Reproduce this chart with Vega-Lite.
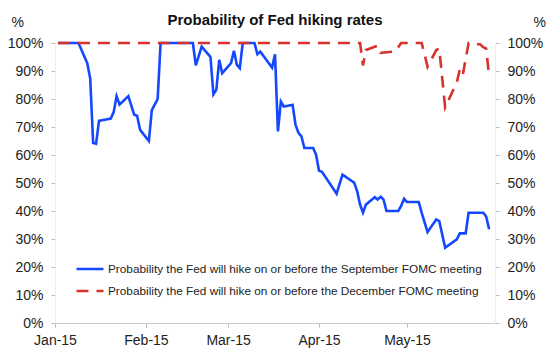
{
  "$schema": "https://vega.github.io/schema/vega-lite/v6.json",
  "autosize": {"type": "none"},
  "width": 440,
  "height": 280,
  "padding": {"left": 55, "top": 43, "right": 55, "bottom": 30},
  "background": "white",
  "config": {
    "view": {"stroke": null},
    "font": "Liberation Sans",
    "axis": {"grid": false, "labelFont": "Liberation Sans", "labelColor": "#222", "titleFont": "Liberation Sans"}
  },
  "title": {
    "text": "Probability of Fed hiking rates",
    "font": "Liberation Sans",
    "fontSize": 15,
    "fontWeight": "bold",
    "color": "#111",
    "anchor": "middle",
    "offset": 0,
    "dy": 13
  },
  "data": {
    "values": [
      {"date": "2015-01-02", "series": "Probability the Fed will hike on or before the September FOMC meeting", "value": 100},
      {"date": "2015-01-09", "series": "Probability the Fed will hike on or before the September FOMC meeting", "value": 100},
      {"date": "2015-01-12", "series": "Probability the Fed will hike on or before the September FOMC meeting", "value": 92.8},
      {"date": "2015-01-13", "series": "Probability the Fed will hike on or before the September FOMC meeting", "value": 87.4},
      {"date": "2015-01-14", "series": "Probability the Fed will hike on or before the September FOMC meeting", "value": 64.3},
      {"date": "2015-01-15", "series": "Probability the Fed will hike on or before the September FOMC meeting", "value": 64},
      {"date": "2015-01-16", "series": "Probability the Fed will hike on or before the September FOMC meeting", "value": 72.2},
      {"date": "2015-01-20", "series": "Probability the Fed will hike on or before the September FOMC meeting", "value": 73},
      {"date": "2015-01-21", "series": "Probability the Fed will hike on or before the September FOMC meeting", "value": 75.3},
      {"date": "2015-01-22", "series": "Probability the Fed will hike on or before the September FOMC meeting", "value": 81},
      {"date": "2015-01-23", "series": "Probability the Fed will hike on or before the September FOMC meeting", "value": 78},
      {"date": "2015-01-26", "series": "Probability the Fed will hike on or before the September FOMC meeting", "value": 81},
      {"date": "2015-01-28", "series": "Probability the Fed will hike on or before the September FOMC meeting", "value": 74.4},
      {"date": "2015-01-29", "series": "Probability the Fed will hike on or before the September FOMC meeting", "value": 74},
      {"date": "2015-01-30", "series": "Probability the Fed will hike on or before the September FOMC meeting", "value": 69},
      {"date": "2015-02-02", "series": "Probability the Fed will hike on or before the September FOMC meeting", "value": 65},
      {"date": "2015-02-03", "series": "Probability the Fed will hike on or before the September FOMC meeting", "value": 76},
      {"date": "2015-02-05", "series": "Probability the Fed will hike on or before the September FOMC meeting", "value": 80},
      {"date": "2015-02-06", "series": "Probability the Fed will hike on or before the September FOMC meeting", "value": 100},
      {"date": "2015-02-17", "series": "Probability the Fed will hike on or before the September FOMC meeting", "value": 100},
      {"date": "2015-02-18", "series": "Probability the Fed will hike on or before the September FOMC meeting", "value": 92},
      {"date": "2015-02-20", "series": "Probability the Fed will hike on or before the September FOMC meeting", "value": 98.7},
      {"date": "2015-02-23", "series": "Probability the Fed will hike on or before the September FOMC meeting", "value": 95},
      {"date": "2015-02-24", "series": "Probability the Fed will hike on or before the September FOMC meeting", "value": 81.7},
      {"date": "2015-02-25", "series": "Probability the Fed will hike on or before the September FOMC meeting", "value": 83.3},
      {"date": "2015-02-26", "series": "Probability the Fed will hike on or before the September FOMC meeting", "value": 94},
      {"date": "2015-02-27", "series": "Probability the Fed will hike on or before the September FOMC meeting", "value": 89.2},
      {"date": "2015-03-02", "series": "Probability the Fed will hike on or before the September FOMC meeting", "value": 92.8},
      {"date": "2015-03-03", "series": "Probability the Fed will hike on or before the September FOMC meeting", "value": 97.2},
      {"date": "2015-03-04", "series": "Probability the Fed will hike on or before the September FOMC meeting", "value": 92.2},
      {"date": "2015-03-05", "series": "Probability the Fed will hike on or before the September FOMC meeting", "value": 91},
      {"date": "2015-03-06", "series": "Probability the Fed will hike on or before the September FOMC meeting", "value": 100},
      {"date": "2015-03-10", "series": "Probability the Fed will hike on or before the September FOMC meeting", "value": 100},
      {"date": "2015-03-11", "series": "Probability the Fed will hike on or before the September FOMC meeting", "value": 96},
      {"date": "2015-03-12", "series": "Probability the Fed will hike on or before the September FOMC meeting", "value": 96.9},
      {"date": "2015-03-16", "series": "Probability the Fed will hike on or before the September FOMC meeting", "value": 91.2},
      {"date": "2015-03-17", "series": "Probability the Fed will hike on or before the September FOMC meeting", "value": 96},
      {"date": "2015-03-18", "series": "Probability the Fed will hike on or before the September FOMC meeting", "value": 68.4},
      {"date": "2015-03-19", "series": "Probability the Fed will hike on or before the September FOMC meeting", "value": 79.1},
      {"date": "2015-03-20", "series": "Probability the Fed will hike on or before the September FOMC meeting", "value": 77.3},
      {"date": "2015-03-23", "series": "Probability the Fed will hike on or before the September FOMC meeting", "value": 77.9},
      {"date": "2015-03-24", "series": "Probability the Fed will hike on or before the September FOMC meeting", "value": 70.8},
      {"date": "2015-03-25", "series": "Probability the Fed will hike on or before the September FOMC meeting", "value": 67.9},
      {"date": "2015-03-26", "series": "Probability the Fed will hike on or before the September FOMC meeting", "value": 66.7},
      {"date": "2015-03-27", "series": "Probability the Fed will hike on or before the September FOMC meeting", "value": 62.5},
      {"date": "2015-03-30", "series": "Probability the Fed will hike on or before the September FOMC meeting", "value": 62.5},
      {"date": "2015-03-31", "series": "Probability the Fed will hike on or before the September FOMC meeting", "value": 60.1},
      {"date": "2015-04-01", "series": "Probability the Fed will hike on or before the September FOMC meeting", "value": 54.4},
      {"date": "2015-04-02", "series": "Probability the Fed will hike on or before the September FOMC meeting", "value": 54},
      {"date": "2015-04-07", "series": "Probability the Fed will hike on or before the September FOMC meeting", "value": 46.2},
      {"date": "2015-04-09", "series": "Probability the Fed will hike on or before the September FOMC meeting", "value": 53},
      {"date": "2015-04-13", "series": "Probability the Fed will hike on or before the September FOMC meeting", "value": 50.1},
      {"date": "2015-04-14", "series": "Probability the Fed will hike on or before the September FOMC meeting", "value": 47.1},
      {"date": "2015-04-15", "series": "Probability the Fed will hike on or before the September FOMC meeting", "value": 42.3},
      {"date": "2015-04-16", "series": "Probability the Fed will hike on or before the September FOMC meeting", "value": 39.4},
      {"date": "2015-04-17", "series": "Probability the Fed will hike on or before the September FOMC meeting", "value": 42.3},
      {"date": "2015-04-20", "series": "Probability the Fed will hike on or before the September FOMC meeting", "value": 44.9},
      {"date": "2015-04-21", "series": "Probability the Fed will hike on or before the September FOMC meeting", "value": 44.1},
      {"date": "2015-04-22", "series": "Probability the Fed will hike on or before the September FOMC meeting", "value": 45.1},
      {"date": "2015-04-23", "series": "Probability the Fed will hike on or before the September FOMC meeting", "value": 44.1},
      {"date": "2015-04-24", "series": "Probability the Fed will hike on or before the September FOMC meeting", "value": 40},
      {"date": "2015-04-28", "series": "Probability the Fed will hike on or before the September FOMC meeting", "value": 40},
      {"date": "2015-04-29", "series": "Probability the Fed will hike on or before the September FOMC meeting", "value": 41.8},
      {"date": "2015-04-30", "series": "Probability the Fed will hike on or before the September FOMC meeting", "value": 44.4},
      {"date": "2015-05-01", "series": "Probability the Fed will hike on or before the September FOMC meeting", "value": 43.2},
      {"date": "2015-05-05", "series": "Probability the Fed will hike on or before the September FOMC meeting", "value": 43.2},
      {"date": "2015-05-06", "series": "Probability the Fed will hike on or before the September FOMC meeting", "value": 39.4},
      {"date": "2015-05-08", "series": "Probability the Fed will hike on or before the September FOMC meeting", "value": 32.5},
      {"date": "2015-05-11", "series": "Probability the Fed will hike on or before the September FOMC meeting", "value": 37},
      {"date": "2015-05-12", "series": "Probability the Fed will hike on or before the September FOMC meeting", "value": 36.4},
      {"date": "2015-05-14", "series": "Probability the Fed will hike on or before the September FOMC meeting", "value": 26.9},
      {"date": "2015-05-18", "series": "Probability the Fed will hike on or before the September FOMC meeting", "value": 29.9},
      {"date": "2015-05-19", "series": "Probability the Fed will hike on or before the September FOMC meeting", "value": 32},
      {"date": "2015-05-21", "series": "Probability the Fed will hike on or before the September FOMC meeting", "value": 32},
      {"date": "2015-05-22", "series": "Probability the Fed will hike on or before the September FOMC meeting", "value": 39.4},
      {"date": "2015-05-27", "series": "Probability the Fed will hike on or before the September FOMC meeting", "value": 39.4},
      {"date": "2015-05-28", "series": "Probability the Fed will hike on or before the September FOMC meeting", "value": 38},
      {"date": "2015-05-29", "series": "Probability the Fed will hike on or before the September FOMC meeting", "value": 33.5},
      {"date": "2015-01-02", "series": "Probability the Fed will hike on or before the December FOMC meeting", "value": 100},
      {"date": "2015-04-15", "series": "Probability the Fed will hike on or before the December FOMC meeting", "value": 100},
      {"date": "2015-04-16", "series": "Probability the Fed will hike on or before the December FOMC meeting", "value": 92},
      {"date": "2015-04-17", "series": "Probability the Fed will hike on or before the December FOMC meeting", "value": 97.5},
      {"date": "2015-04-21", "series": "Probability the Fed will hike on or before the December FOMC meeting", "value": 99},
      {"date": "2015-04-22", "series": "Probability the Fed will hike on or before the December FOMC meeting", "value": 96.5},
      {"date": "2015-04-27", "series": "Probability the Fed will hike on or before the December FOMC meeting", "value": 97},
      {"date": "2015-04-29", "series": "Probability the Fed will hike on or before the December FOMC meeting", "value": 100},
      {"date": "2015-05-06", "series": "Probability the Fed will hike on or before the December FOMC meeting", "value": 100},
      {"date": "2015-05-07", "series": "Probability the Fed will hike on or before the December FOMC meeting", "value": 96},
      {"date": "2015-05-08", "series": "Probability the Fed will hike on or before the December FOMC meeting", "value": 91.5},
      {"date": "2015-05-11", "series": "Probability the Fed will hike on or before the December FOMC meeting", "value": 97.5},
      {"date": "2015-05-12", "series": "Probability the Fed will hike on or before the December FOMC meeting", "value": 98},
      {"date": "2015-05-14", "series": "Probability the Fed will hike on or before the December FOMC meeting", "value": 77},
      {"date": "2015-05-18", "series": "Probability the Fed will hike on or before the December FOMC meeting", "value": 86},
      {"date": "2015-05-19", "series": "Probability the Fed will hike on or before the December FOMC meeting", "value": 90.5},
      {"date": "2015-05-20", "series": "Probability the Fed will hike on or before the December FOMC meeting", "value": 88.5},
      {"date": "2015-05-22", "series": "Probability the Fed will hike on or before the December FOMC meeting", "value": 100},
      {"date": "2015-05-26", "series": "Probability the Fed will hike on or before the December FOMC meeting", "value": 99.5},
      {"date": "2015-05-27", "series": "Probability the Fed will hike on or before the December FOMC meeting", "value": 98.5},
      {"date": "2015-05-28", "series": "Probability the Fed will hike on or before the December FOMC meeting", "value": 98},
      {"date": "2015-05-29", "series": "Probability the Fed will hike on or before the December FOMC meeting", "value": 88}
    ]
  },
  "resolve": {"axis": {"y": "independent"}},
  "layer": [
    {
      "mark": {"type": "line", "strokeWidth": 2.6},
      "encoding": {
        "x": {
          "field": "date", "type": "temporal",
          "scale": {"type": "utc", "domain": [{"year": 2015, "month": 1, "date": 1, "utc": true}, {"year": 2015, "month": 5, "date": 31, "utc": true}]},
          "axis": {
            "title": null,
            "values": [
              {"year": 2015, "month": 1, "date": 1, "utc": true},
              {"year": 2015, "month": 2, "date": 1, "utc": true},
              {"year": 2015, "month": 3, "date": 1, "utc": true},
              {"year": 2015, "month": 4, "date": 1, "utc": true},
              {"year": 2015, "month": 5, "date": 1, "utc": true}
            ],
            "labelExpr": "utcFormat(datum.value, '%b-%y')",
            "labelFontSize": 14,
            "labelPadding": 6,
            "tickSize": 4,
            "tickColor": "#bbb",
            "domainColor": "#ccc",
            "labelFlush": false
          }
        },
        "y": {
          "field": "value", "type": "quantitative",
          "scale": {"domain": [0, 100]},
          "axis": {
            "orient": "left",
            "title": "%",
            "titleAngle": 0,
            "titleFontSize": 14,
            "titleFontWeight": "normal",
            "titleColor": "#222",
            "titleX": -44,
            "titleY": -21,
            "titleAlign": "left",
            "titleBaseline": "middle",
            "values": [0, 10, 20, 30, 40, 50, 60, 70, 80, 90, 100],
            "labelExpr": "datum.value + '%'",
            "labelFontSize": 14,
            "labelPadding": 8,
            "tickSize": 4,
            "tickColor": "#bbb",
            "domainColor": "#eee"
          }
        },
        "color": {
          "field": "series", "type": "nominal",
          "sort": ["Probability the Fed will hike on or before the September FOMC meeting", "Probability the Fed will hike on or before the December FOMC meeting"],
          "scale": {
            "domain": ["Probability the Fed will hike on or before the September FOMC meeting", "Probability the Fed will hike on or before the December FOMC meeting"],
            "range": ["#1448ff", "#d8322c"]
          },
          "legend": {
            "title": null,
            "orient": "none",
            "legendX": 20,
            "legendY": 211,
            "symbolType": "stroke",
            "symbolSize": 729,
            "symbolStrokeWidth": 2.5,
            "labelFontSize": 11.8,
            "labelColor": "#222",
            "labelLimit": 500,
            "labelOffset": 3,
            "rowPadding": -8
          }
        },
        "strokeDash": {
          "field": "series", "type": "nominal",
          "scale": {
            "domain": ["Probability the Fed will hike on or before the September FOMC meeting", "Probability the Fed will hike on or before the December FOMC meeting"],
            "range": [[1, 0], [12, 8]]
          },
          "legend": null
        },
        "order": {"field": "date", "type": "temporal"}
      }
    },
    {
      "mark": {"type": "rule", "opacity": 0},
      "encoding": {
        "y": {
          "datum": 0, "type": "quantitative",
          "axis": {
            "orient": "right",
            "title": "%",
            "titleAngle": 0,
            "titleFontSize": 14,
            "titleFontWeight": "normal",
            "titleColor": "#222",
            "titleX": 38,
            "titleY": -21,
            "titleAlign": "left",
            "titleBaseline": "middle",
            "values": [0, 10, 20, 30, 40, 50, 60, 70, 80, 90, 100],
            "labelExpr": "datum.value + '%'",
            "labelFontSize": 14,
            "labelPadding": 8,
            "tickSize": 4,
            "tickColor": "#bbb",
            "domainColor": "#eee"
          }
        }
      }
    }
  ]
}
